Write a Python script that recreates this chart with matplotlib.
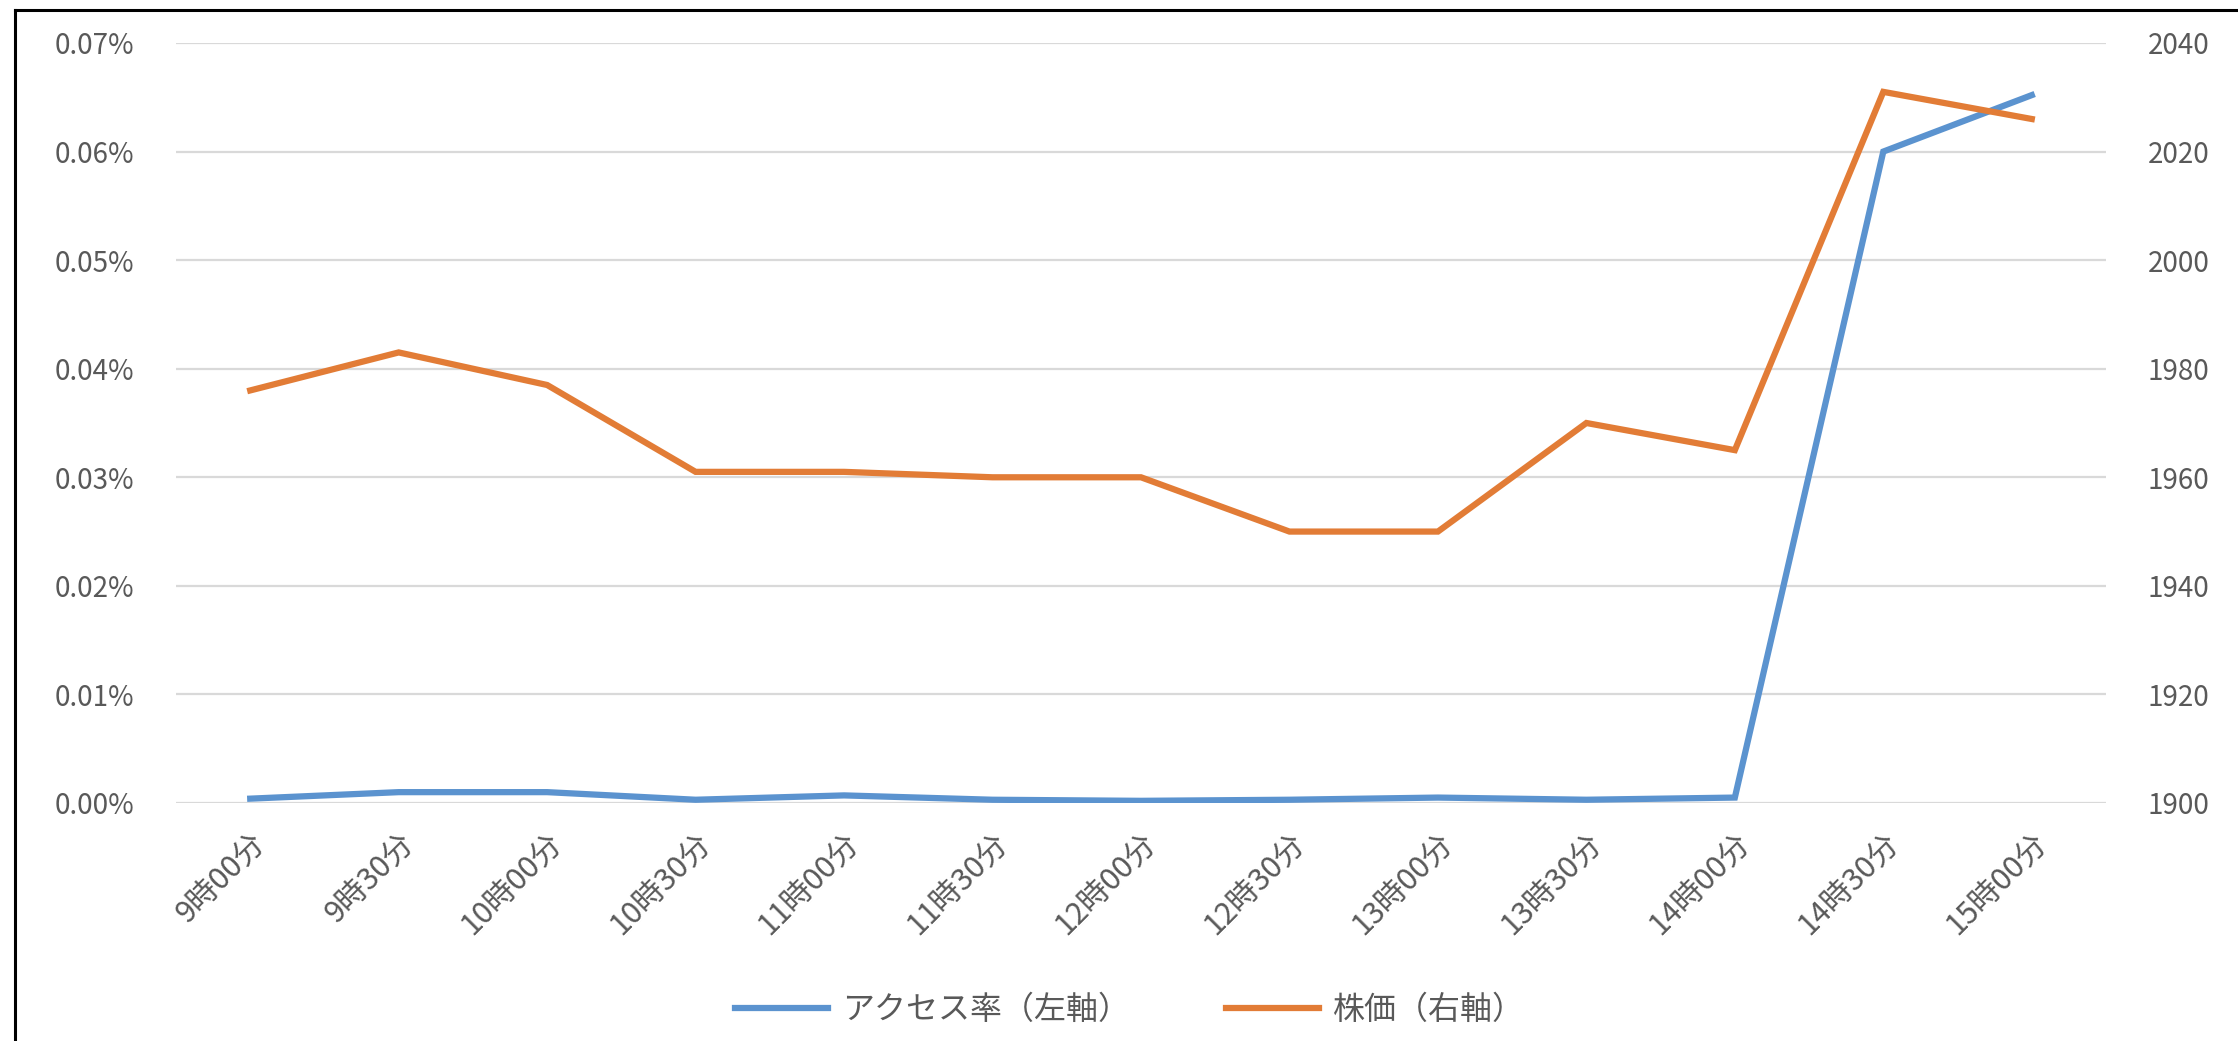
import matplotlib
matplotlib.use("Agg")
import matplotlib.pyplot as plt
from matplotlib.ticker import FuncFormatter, MultipleLocator
from matplotlib.lines import Line2D

plt.rcParams['font.family'] = ['Noto Sans CJK JP', 'DejaVu Sans']

# 時間帯
jikan = ['9時00分', '9時30分', '10時00分', '10時30分', '11時00分', '11時30分',
         '12時00分', '12時30分', '13時00分', '13時30分', '14時00分', '14時30分',
         '15時00分']
# アクセス率（%表示の値）
access = [0.0004, 0.0010, 0.0010, 0.0003, 0.0007, 0.0003, 0.0002, 0.0003,
          0.0005, 0.0003, 0.0005, 0.0600, 0.0652]
# 株価
kabuka = [1976, 1983, 1977, 1961, 1961, 1960, 1960, 1950, 1950, 1970, 1965,
          2031, 2026]

blue = '#5b93cf'
orange = '#e27c36'
grid_c = '#d9d9d9'
text_c = '#595959'

fig = plt.figure(figsize=(22.38, 10.41), dpi=100)
ax = fig.add_axes([176 / 2238, 1 - 803 / 1041, (2106 - 176) / 2238, (803 - 43) / 1041])
ax2 = ax.twinx()

x = list(range(len(jikan)))
ax.plot(x, access, color=blue, lw=4.5, solid_joinstyle='miter', zorder=3)
ax2.plot(x, kabuka, color=orange, lw=4.5, solid_joinstyle='miter', zorder=3)

ax.set_xlim(-0.5, len(jikan) - 0.5)
ax.set_ylim(0, 0.07)
ax.yaxis.set_major_locator(MultipleLocator(0.01))
ax.yaxis.set_major_formatter(FuncFormatter(lambda v, p: f"{v:.2f}%"))
ax2.set_ylim(1900, 2040)
ax2.yaxis.set_major_locator(MultipleLocator(20))

ax.grid(axis='y', color=grid_c, lw=1.6)
ax.set_axisbelow(True)
for a in (ax, ax2):
    for s in a.spines.values():
        s.set_visible(False)
    a.tick_params(length=0, labelsize=20, labelcolor=text_c)
ax.tick_params(axis='y', pad=30)
ax2.tick_params(axis='y', pad=30)

ax.set_xticks(x)
ax.set_xticklabels(jikan, rotation=45, ha='right', va='top',
                   rotation_mode='anchor', fontsize=22, color=text_c)
ax.tick_params(axis='x', pad=18)

handles = [Line2D([], [], color=blue, lw=4.5), Line2D([], [], color=orange, lw=4.5)]
fig.legend(handles, ['アクセス率（左軸）', '株価（右軸）'], loc='center',
           bbox_to_anchor=(0.505, 0.03), ncol=2, frameon=False, fontsize=23,
           handlelength=2.9, handletextpad=0.45, columnspacing=3.0,
           labelcolor=text_c)

# 外枠（左と上）
fig.add_artist(Line2D([15 / 2238, 15 / 2238], [0, 1 - 10 / 1041],
                      color='black', lw=2.2, transform=fig.transFigure))
fig.add_artist(Line2D([15 / 2238, 1], [1 - 10 / 1041, 1 - 10 / 1041],
                      color='black', lw=2.2, transform=fig.transFigure))

fig.savefig('out.png', dpi=100)
